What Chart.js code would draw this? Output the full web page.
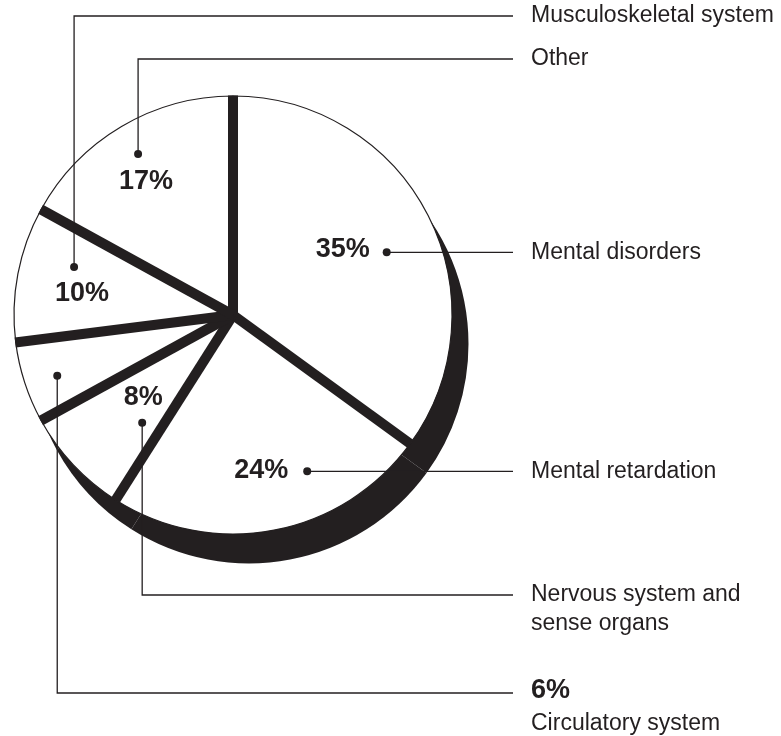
<!DOCTYPE html>
<html>
<head>
<meta charset="utf-8">
<script src="https://cdn.jsdelivr.net/npm/chart.js@4.4.1/dist/chart.umd.min.js"></script>
<style>
  html, body { margin: 0; padding: 0; background: #fff; }
  #wrap { position: relative; width: 781px; height: 736px; }
</style>
</head>
<body>
<div id="wrap"><canvas id="pie" width="781" height="736"></canvas></div>
<script>
// data, clockwise from 12 o'clock
const categories = ['Mental disorders', 'Mental retardation', 'Nervous system and sense organs',
  'Circulatory system', 'Musculoskeletal system', 'Other'];
const shares = [35, 24, 8, 6, 10, 17];
const sideText = [['Mental disorders'], ['Mental retardation'], ['Nervous system and', 'sense organs'],
  ['Circulatory system'], ['Musculoskeletal system'], ['Other']];

const INK = '#231f20';
const FONT = '"Liberation Sans", Arial, Helvetica, sans-serif';
const SHADOW = { dx: 16, dy: 29 };
const SEP_W = 10;
const LINE_END = 513, TEXT_X = 531;

// callout dot: angle (deg, canvas) + distance from centre; elbowY = where the leader turns right
const CALLOUTS = [
  { ang: -22.2, r: 166, elbowY: null, pct: { dx: -17, dy: -3, align: 'right' } },
  { ang: 64.6, r: 173, elbowY: null, pct: { dx: -19, dy: -1, align: 'right' } },
  { ang: 130.1, r: 141, elbowY: 595, pct: { dx: 1, dy: -25, align: 'center' } },
  { ang: 160.9, r: 186, elbowY: 693, pct: null },   // % goes on the right side
  { ang: 196.8, r: 166, elbowY: 16, pct: { dx: 8, dy: 27, align: 'center' } },
  { ang: 239.5, r: 187, elbowY: 59, pct: { dx: 8, dy: 28, align: 'center' } }
];

// black offset disc behind the pie
const shadowPlugin = {
  id: 'shadow',
  beforeDatasetsDraw(chart) {
    const ctx = chart.ctx;
    ctx.save();
    ctx.fillStyle = INK;
    chart.getDatasetMeta(0).data.forEach(a => {
      const p = a.getProps(['x', 'y', 'startAngle', 'endAngle', 'outerRadius'], true);
      ctx.beginPath();
      ctx.moveTo(p.x + SHADOW.dx, p.y + SHADOW.dy);
      ctx.arc(p.x + SHADOW.dx, p.y + SHADOW.dy, p.outerRadius + 0.5, p.startAngle, p.endAngle);
      ctx.closePath();
      ctx.fill();
    });
    ctx.restore();
  }
};

// thick radial separators between slices
const separatorPlugin = {
  id: 'separators',
  afterDatasetsDraw(chart) {
    const ctx = chart.ctx;
    ctx.save();
    ctx.strokeStyle = INK;
    ctx.lineWidth = SEP_W;
    ctx.lineCap = 'butt';
    chart.getDatasetMeta(0).data.forEach(a => {
      const p = a.getProps(['x', 'y', 'startAngle', 'outerRadius'], true);
      ctx.beginPath();
      ctx.moveTo(p.x, p.y);
      ctx.lineTo(p.x + Math.cos(p.startAngle) * (p.outerRadius + 0.5), p.y + Math.sin(p.startAngle) * (p.outerRadius + 0.5));
      ctx.stroke();
    });
    ctx.restore();
  }
};

const calloutPlugin = {
  id: 'callouts',
  afterDraw(chart) {
    const ctx = chart.ctx;
    ctx.save();
    chart.getDatasetMeta(0).data.forEach((a, i) => {
      const c = CALLOUTS[i];
      const t = c.ang * Math.PI / 180;
      const px = a.x + Math.cos(t) * c.r, py = a.y + Math.sin(t) * c.r;
      const ly = c.elbowY === null ? py : c.elbowY;

      ctx.strokeStyle = INK;
      ctx.lineWidth = 1.3;
      ctx.beginPath();
      ctx.moveTo(px, py);
      if (c.elbowY !== null) ctx.lineTo(px, ly);
      ctx.lineTo(LINE_END, ly);
      ctx.stroke();

      ctx.fillStyle = INK;
      ctx.beginPath();
      ctx.arc(px, py, 4, 0, Math.PI * 2);
      ctx.fill();

      ctx.textBaseline = 'middle';
      const pct = shares[i] + '%';
      if (c.pct) {
        ctx.font = 'bold 27px ' + FONT;
        ctx.textAlign = c.pct.align;
        ctx.fillText(pct, px + c.pct.dx, py + c.pct.dy);
      }
      ctx.textAlign = 'left';
      let y = ly;
      if (!c.pct) {
        ctx.font = 'bold 27px ' + FONT;
        ctx.fillText(pct, TEXT_X, y - 2);
        y += 31;
      }
      ctx.font = '23px ' + FONT;
      sideText[i].forEach((line, k) => ctx.fillText(line, TEXT_X, y + k * 29));
    });
    ctx.restore();
  }
};

new Chart(document.getElementById('pie'), {
  type: 'pie',
  data: {
    labels: categories,
    datasets: [{
      data: shares,
      backgroundColor: '#ffffff',
      borderColor: INK,
      borderWidth: 1.2
    }]
  },
  options: {
    responsive: false,
    animation: false,
    events: [],
    radius: 219,
    layout: { padding: { left: 14, top: 96, right: 329, bottom: 202 } },
    plugins: { legend: { display: false }, tooltip: { enabled: false } }
  },
  plugins: [shadowPlugin, separatorPlugin, calloutPlugin]
});
</script>
</body>
</html>
